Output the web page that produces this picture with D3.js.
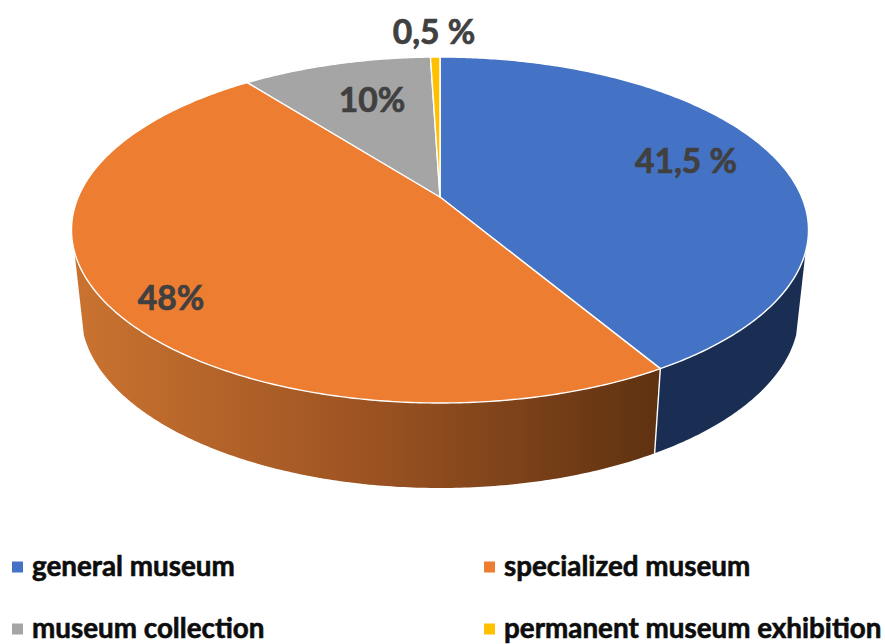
<!DOCTYPE html>
<html><head><meta charset="utf-8">
<script src="https://cdn.jsdelivr.net/npm/d3@7"></script>
<style>html,body{margin:0;padding:0;background:#fff}svg{display:block}text{font-family:Lato,"Open Sans",sans-serif;font-weight:700}</style>
</head><body><div id="chart"></div>
<script>
const categories = ["general museum","specialized museum","museum collection","permanent museum exhibition"];
const values = [41.5,48,10,0.5];
const valueLabels = ["41,5 %","48%","10%","0,5 %"];
const colors = ["#4472c4","#ed7d31","#a5a5a5","#ffc000"];

const W=885,H=644;
const labelPos=[[686,160],[171,297],[372,99],[434,31]];
const legendPos=[[12,567],[484,567],[12,629],[484,629]];

// perspective projection of a flat disc onto the page
const persp=-0.1908, cx=440;
function rim(rx,top,bottom){
  const a=(bottom*(1+persp)-top*(1-persp))/2, b=(bottom*(1+persp)+top*(1-persp))/2;
  const k=Math.sqrt(1-persp*persp)*rx;
  return t=>{const u=Math.sin(t),v=-Math.cos(t),d=1+persp*v;return [cx+k*u/d,(a*v+b)/d];};
}
const topRim=rim(368.5,57,403), lowRim=rim(359,138,488);
const apex=[cx,197];

const pie=d3.pie().sort(null).value(d=>d);
const arcs=pie(values);
const line=d3.line();
const samples=(a0,a1)=>{const n=Math.max(2,Math.ceil(Math.abs(a1-a0)/0.01));return d3.range(n+1).map(i=>a0+(a1-a0)*i/n);};

const svg=d3.select("#chart").append("svg").attr("width",W).attr("height",H);
const defs=svg.append("defs");
const grad=defs.append("linearGradient").attr("id","wallOrange").attr("gradientUnits","userSpaceOnUse")
  .attr("x1",84).attr("x2",655).attr("y1",0).attr("y2",0);
grad.append("stop").attr("offset",0).attr("stop-color","#c97230");
grad.append("stop").attr("offset",0.5).attr("stop-color","#9c5322");
grad.append("stop").attr("offset",1).attr("stop-color","#5f3211");

const wallColors=["#1a2d52","url(#wallOrange)"];
const visLo=108*Math.PI/180, visHi=252*Math.PI/180;
svg.append("g").selectAll("path").data(arcs.slice(0,2)).join("path")
  .attr("d",(d)=>{
    const a0=Math.max(d.startAngle,visLo),a1=Math.min(d.endAngle,visHi);
    const s=samples(a0,a1);
    return line(s.map(topRim).concat(s.slice().reverse().map(lowRim)))+"Z";
  })
  .attr("fill",(d,i)=>wallColors[i]);
const divA=arcs[0].endAngle;
svg.append("path").attr("d",line([topRim(divA),lowRim(divA)])).attr("stroke","#fff").attr("stroke-width",1.4).attr("fill","none");

svg.append("g").selectAll("path").data(arcs).join("path")
  .attr("d",d=>line([apex].concat(samples(d.startAngle,d.endAngle).map(topRim)))+"Z")
  .attr("fill",(d,i)=>colors[i])
  .attr("stroke","#fff").attr("stroke-width",1.4).attr("stroke-linejoin","round");

svg.append("g").selectAll("text").data(valueLabels).join("text")
  .attr("x",(d,i)=>labelPos[i][0]).attr("y",(d,i)=>labelPos[i][1])
  .attr("text-anchor","middle").attr("dominant-baseline","central")
  .attr("font-size",33.6).attr("fill","#404040").attr("stroke","#404040").attr("stroke-width",0.7).text(d=>d);

const lg=svg.append("g").selectAll("g").data(categories).join("g")
  .attr("transform",(d,i)=>`translate(${legendPos[i][0]},${legendPos[i][1]})`);
lg.append("rect").attr("x",0).attr("y",-5.5).attr("width",11).attr("height",11).attr("fill",(d,i)=>colors[i]);
lg.append("text").attr("x",20).attr("y",9).attr("font-size",27.8).attr("fill","#0d0d0d").attr("stroke","#0d0d0d").attr("stroke-width",0.6).text(d=>d);
</script></body></html>
